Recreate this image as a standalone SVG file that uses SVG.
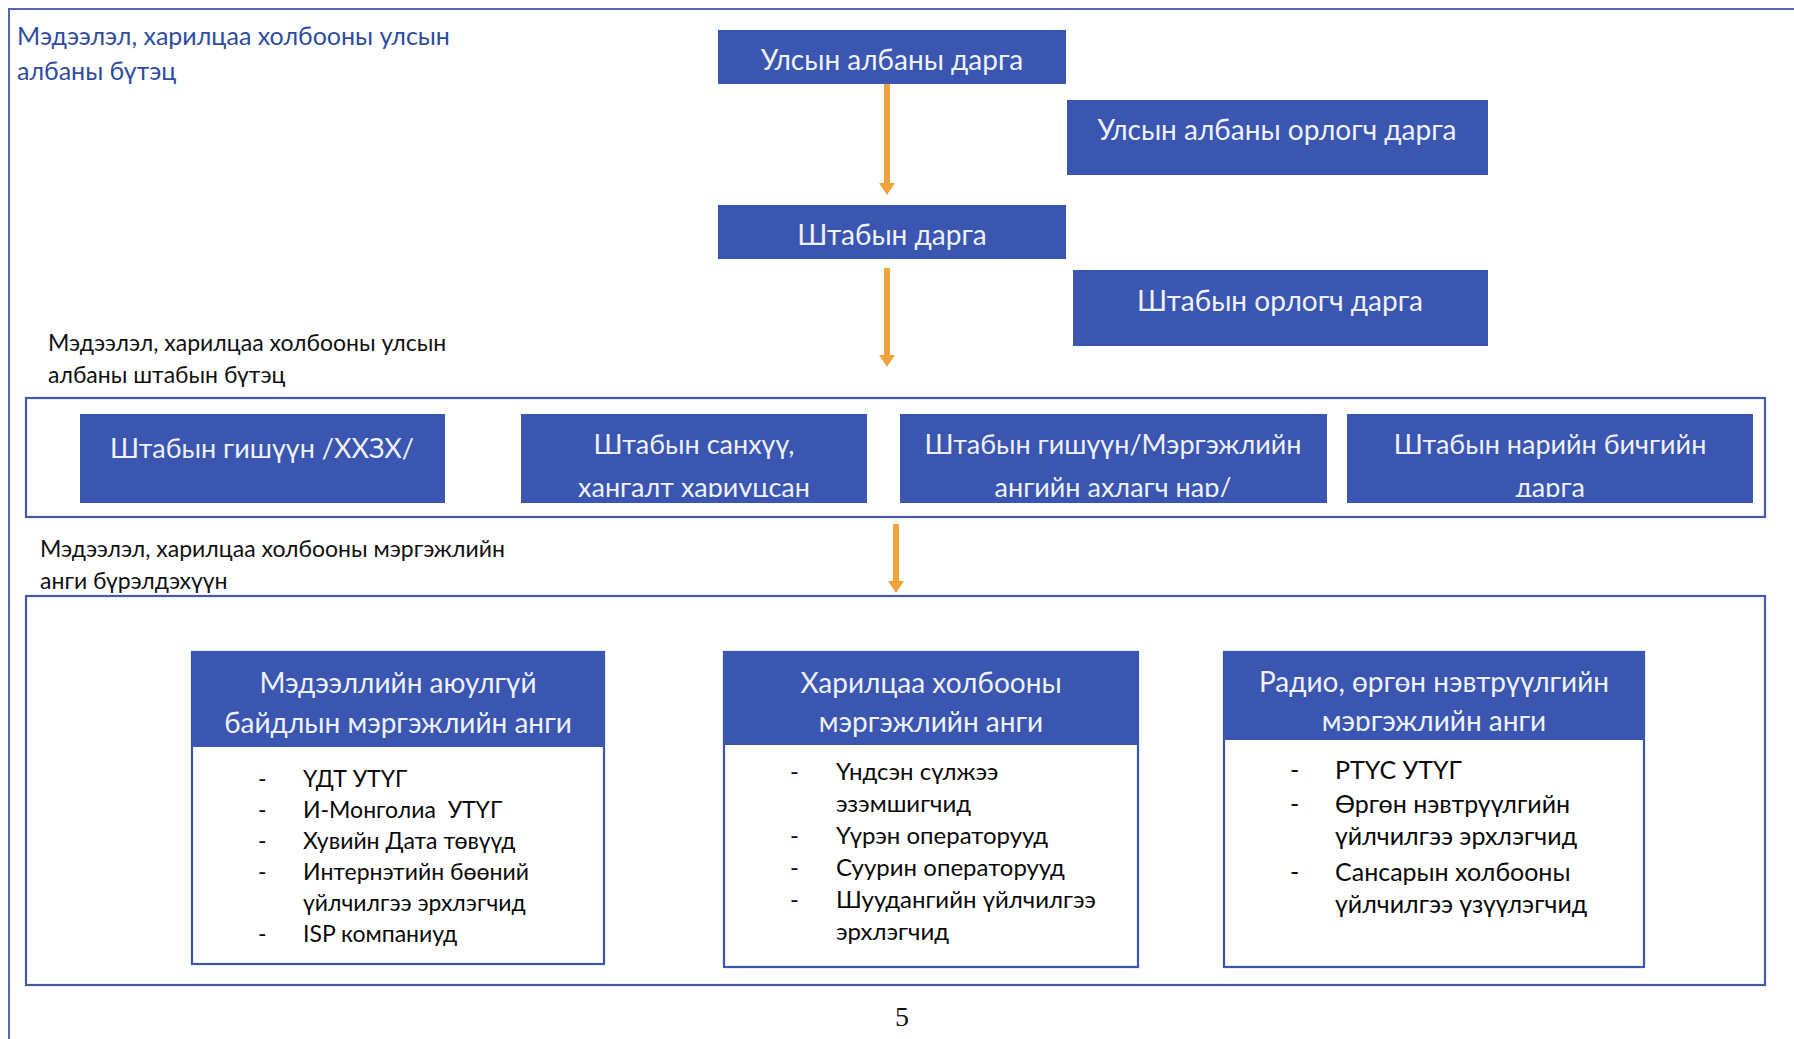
<svg xmlns="http://www.w3.org/2000/svg" width="1794" height="1039" viewBox="0 0 1794 1039">
<style>
.frame{fill:none;stroke:#5568b4;stroke-width:2}
.sec{fill:none;stroke:#4459aa;stroke-width:2.2}
.box{fill:#3a56b1}
.sub{fill:#fff;stroke:#3a56b1;stroke-width:2.2}
.bt{font-family:Lato,"Open Sans",sans-serif;font-size:28px;fill:#eef1fa;text-anchor:middle}
.bt2{font-family:Lato,"Open Sans",sans-serif;font-size:27px;fill:#eef1fa;text-anchor:middle}
.title{font-family:Lato,"Open Sans",sans-serif;font-size:25px;fill:#2f4d9e}
.lab{font-family:Lato,"Open Sans",sans-serif;font-size:23px;fill:#111}
.li{font-family:Lato,"Open Sans",sans-serif;font-size:23px;fill:#0a0a0a}
.li2{font-family:Lato,"Open Sans",sans-serif;font-size:24px;fill:#0a0a0a}
.li3{font-family:Lato,"Open Sans",sans-serif;font-size:25px;fill:#0a0a0a}
.arr{stroke:#f0a23c;stroke-width:6;fill:none}
.pg{font-family:"Liberation Serif",serif;font-size:28px;fill:#111;text-anchor:middle}
</style>
<defs>
<marker id="ah" markerWidth="12" markerHeight="16" refX="0" refY="8" orient="auto" markerUnits="userSpaceOnUse">
<path d="M0,0 L12,8 L0,16 Z" fill="#f0a23c"/>
</marker>
<clipPath id="cb"><rect x="521" y="414" width="346" height="83"/></clipPath>
<clipPath id="cc"><rect x="900" y="414" width="427" height="83"/></clipPath>
<clipPath id="cd"><rect x="1347" y="414" width="406" height="83"/></clipPath>
<clipPath id="cC"><rect x="1224" y="652" width="420" height="79"/></clipPath>
</defs>
<rect width="1794" height="1039" fill="#fff"/>
<path class="frame" d="M9,1039 L9,9 L1794,9"/>

<text class="title" x="17" y="45">Мэдээлэл, харилцаа холбооны улсын</text>
<text class="title" x="17" y="80">албаны бүтэц</text>

<g id="n-head">
<rect class="box" x="718" y="30" width="348" height="54"/>
<text class="bt" x="892" y="70">Улсын албаны дарга</text>
</g>
<g id="n-deputy">
<rect class="box" x="1067" y="100" width="421" height="75"/>
<text class="bt" x="1277" y="140">Улсын албаны орлогч дарга</text>
</g>
<g id="n-staff">
<rect class="box" x="718" y="205" width="348" height="54"/>
<text class="bt" x="892" y="245">Штабын дарга</text>
</g>
<g id="n-staffdep">
<rect class="box" x="1073" y="270" width="415" height="76"/>
<text class="bt" x="1280" y="311">Штабын орлогч дарга</text>
</g>

<text class="lab" x="48" y="351">Мэдээлэл, харилцаа холбооны улсын</text>
<text class="lab" x="48" y="383">албаны штабын бүтэц</text>

<g id="n-staffsec">
<rect class="sec" x="26" y="398" width="1739" height="119"/>
</g>
<g id="n-s1">
<rect class="box" x="80" y="414" width="365" height="89"/>
<text class="bt2" x="262" y="458">Штабын гишүүн /ХХЗХ/</text>
</g>
<g id="n-s2">
<rect class="box" x="521" y="414" width="346" height="89"/>
<g clip-path="url(#cb)">
<text class="bt2" x="694" y="454">Штабын санхүү,</text>
<text class="bt2" x="694" y="497">хангалт хариуцсан</text>
</g>
</g>
<g id="n-s3">
<rect class="box" x="900" y="414" width="427" height="89"/>
<g clip-path="url(#cc)">
<text class="bt2" x="1113" y="454">Штабын гишүүн/Мэргэжлийн</text>
<text class="bt2" x="1113" y="497">ангийн ахлагч нар/</text>
</g>
</g>
<g id="n-s4">
<rect class="box" x="1347" y="414" width="406" height="89"/>
<g clip-path="url(#cd)">
<text class="bt2" x="1550" y="454">Штабын нарийн бичгийн</text>
<text class="bt2" x="1550" y="497">дарга</text>
</g>
</g>

<text class="lab" x="40" y="557">Мэдээлэл, харилцаа холбооны мэргэжлийн</text>
<text class="lab" x="40" y="589">анги бүрэлдэхүүн</text>

<g id="n-unitsec">
<rect class="sec" x="26" y="596" width="1739" height="389"/>
</g>

<g id="n-u1">
<rect class="sub" x="192" y="652" width="412" height="312"/>
<rect class="box" x="192" y="652" width="412" height="95"/>
<text class="bt" x="398" y="693">Мэдээллийн аюулгүй</text>
<text class="bt" x="398" y="733">байдлын мэргэжлийн анги</text>
<g class="li">
<text x="258" y="787">-</text><text x="303" y="787">ҮДТ УТҮГ</text>
<text x="258" y="818">-</text><text x="303" y="818" xml:space="preserve">И-Монголиа  УТҮГ</text>
<text x="258" y="849">-</text><text x="303" y="849">Хувийн Дата төвүүд</text>
<text x="258" y="880">-</text><text x="303" y="880">Интернэтийн бөөний</text>
<text x="303" y="911">үйлчилгээ эрхлэгчид</text>
<text x="258" y="942">-</text><text x="303" y="942">ISP компаниуд</text>
</g>
</g>

<g id="n-u2">
<rect class="sub" x="724" y="652" width="414" height="315"/>
<rect class="box" x="724" y="652" width="414" height="93"/>
<text class="bt" x="931" y="693">Харилцаа холбооны</text>
<text class="bt" x="931" y="732">мэргэжлийн анги</text>
<g class="li2">
<text x="790" y="780">-</text><text x="836" y="780">Үндсэн сүлжээ</text>
<text x="836" y="812">эзэмшигчид</text>
<text x="790" y="844">-</text><text x="836" y="844">Үүрэн операторууд</text>
<text x="790" y="876">-</text><text x="836" y="876">Суурин операторууд</text>
<text x="790" y="908">-</text><text x="836" y="908">Шуудангийн үйлчилгээ</text>
<text x="836" y="940">эрхлэгчид</text>
</g>
</g>

<g id="n-u3">
<rect class="sub" x="1224" y="652" width="420" height="315"/>
<rect class="box" x="1224" y="652" width="420" height="88"/>
<g clip-path="url(#cC)">
<text class="bt" x="1434" y="692">Радио, өргөн нэвтрүүлгийн</text>
<text class="bt" x="1434" y="731">мэргэжлийн анги</text>
</g>
<g class="li3">
<text x="1290" y="779">-</text><text x="1335" y="779">РТҮС УТҮГ</text>
<text x="1290" y="813">-</text><text x="1335" y="813">Өргөн нэвтрүүлгийн</text>
<text x="1335" y="845">үйлчилгээ эрхлэгчид</text>
<text x="1290" y="881">-</text><text x="1335" y="881">Сансарын холбооны</text>
<text x="1335" y="913">үйлчилгээ үзүүлэгчид</text>
</g>
</g>

<g id="connectors">
<line class="arr" x1="887" y1="84" x2="887" y2="183" marker-end="url(#ah)"/>
<line class="arr" x1="887" y1="268" x2="887" y2="355" marker-end="url(#ah)"/>
<line class="arr" x1="896" y1="524" x2="896" y2="581" marker-end="url(#ah)"/>
</g>

<text class="pg" x="902" y="1026">5</text>
</svg>
